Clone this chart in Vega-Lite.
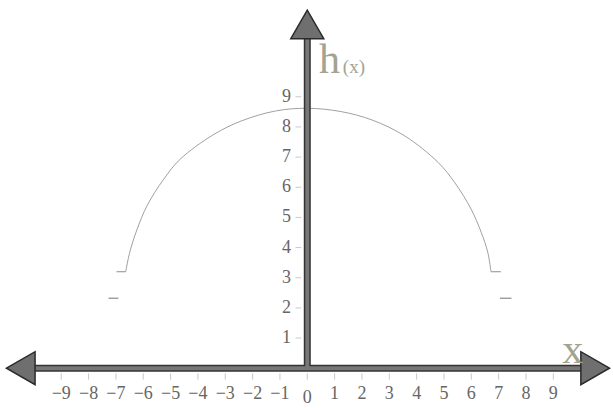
{
  "$schema": "https://vega.github.io/schema/vega-lite/v6.json",
  "width": 613,
  "height": 408,
  "autosize": {"type": "fit", "contains": "padding"},
  "padding": 0,
  "background": "white",
  "config": {"view": {"stroke": null}},
  "datasets": {
    "curve": [
      {"x": -6.64, "y": 3.2},
      {"x": -6.61, "y": 3.36},
      {"x": -6.46, "y": 3.96},
      {"x": -6.22, "y": 4.62},
      {"x": -5.86, "y": 5.39},
      {"x": -5.25, "y": 6.27},
      {"x": -4.65, "y": 6.93},
      {"x": -3.44, "y": 7.74},
      {"x": -2.41, "y": 8.2},
      {"x": -1.16, "y": 8.53},
      {"x": 0, "y": 8.62},
      {"x": 1.23, "y": 8.51},
      {"x": 2.37, "y": 8.23},
      {"x": 3.57, "y": 7.7},
      {"x": 4.79, "y": 6.82},
      {"x": 5.39, "y": 6.16},
      {"x": 5.99, "y": 5.28},
      {"x": 6.36, "y": 4.51},
      {"x": 6.6, "y": 3.85},
      {"x": 6.72, "y": 3.2}
    ],
    "segs": [
      {"x": -6.98, "x2": -6.64, "y": 3.2, "kind": "end"},
      {"x": 6.72, "x2": 7.08, "y": 3.2, "kind": "end"},
      {"x": -7.27, "x2": -6.91, "y": 2.32, "kind": "dash"},
      {"x": 7.05, "x2": 7.47, "y": 2.32, "kind": "dash"}
    ],
    "xt": [
      {"v": -9, "label": "−9"}, {"v": -8, "label": "−8"}, {"v": -7, "label": "−7"},
      {"v": -6, "label": "−6"}, {"v": -5, "label": "−5"}, {"v": -4, "label": "−4"},
      {"v": -3, "label": "−3"}, {"v": -2, "label": "−2"}, {"v": -1, "label": "−1"},
      {"v": 0, "label": "0"}, {"v": 1, "label": "1"}, {"v": 2, "label": "2"},
      {"v": 3, "label": "3"}, {"v": 4, "label": "4"}, {"v": 5, "label": "5"},
      {"v": 6, "label": "6"}, {"v": 7, "label": "7"}, {"v": 8, "label": "8"},
      {"v": 9, "label": "9"}
    ],
    "yt": [
      {"v": 1, "label": "1"}, {"v": 2, "label": "2"}, {"v": 3, "label": "3"},
      {"v": 4, "label": "4"}, {"v": 5, "label": "5"}, {"v": 6, "label": "6"},
      {"v": 7, "label": "7"}, {"v": 8, "label": "8"}, {"v": 9, "label": "9"}
    ],
    "arrows": [
      {"x": -10.48, "y": 0, "shape": "triangle-left"},
      {"x": 10.53, "y": 0, "shape": "triangle-right"},
      {"x": 0, "y": 11.4, "shape": "triangle-up"}
    ],
    "names": [
      {"x": 9.33, "y": 0.18, "text": "x", "size": "big"},
      {"x": 0.43, "y": 9.79, "text": "h", "size": "big"},
      {"x": 1.3, "y": 9.79, "text": "(x)", "size": "small"}
    ]
  },
  "layer": [
    {
      "data": {"name": "curve"},
      "mark": {"type": "line", "color": "#a0a0a0", "strokeWidth": 1, "interpolate": "catmull-rom"},
      "encoding": {
        "x": {"field": "x", "type": "quantitative", "scale": {"domain": [-11.24, 11.0], "nice": false, "zero": false}, "axis": null},
        "y": {"field": "y", "type": "quantitative", "scale": {"domain": [-1.254, 12.21], "nice": false, "zero": false}, "axis": null}
      }
    },
    {
      "data": {"name": "segs"},
      "mark": {"type": "rule", "strokeWidth": 1.2},
      "encoding": {
        "x": {"field": "x", "type": "quantitative", "scale": {"domain": [-11.24, 11.0], "nice": false, "zero": false}, "axis": null},
        "x2": {"field": "x2"},
        "y": {"field": "y", "type": "quantitative", "scale": {"domain": [-1.254, 12.21], "nice": false, "zero": false}, "axis": null},
        "color": {"field": "kind", "type": "nominal", "scale": {"domain": ["end", "dash"], "range": ["#a0a0a0", "#8a8a8a"]}, "legend": null}
      }
    },
    {
      "data": {"name": "xt"},
      "mark": {"type": "rule", "color": "#c8c8c8", "strokeWidth": 1},
      "encoding": {
        "x": {"field": "v", "type": "quantitative", "scale": {"domain": [-11.24, 11.0], "nice": false, "zero": false}, "axis": null},
        "y": {"datum": -0.17, "type": "quantitative", "scale": {"domain": [-1.254, 12.21], "nice": false, "zero": false}, "axis": null},
        "y2": {"datum": -0.38}
      }
    },
    {
      "data": {"name": "yt"},
      "mark": {"type": "rule", "color": "#c8c8c8", "strokeWidth": 1},
      "encoding": {
        "y": {"field": "v", "type": "quantitative", "scale": {"domain": [-1.254, 12.21], "nice": false, "zero": false}, "axis": null},
        "x": {"datum": -0.43, "type": "quantitative", "scale": {"domain": [-11.24, 11.0], "nice": false, "zero": false}, "axis": null},
        "x2": {"datum": -0.22}
      }
    },
    {
      "data": {"name": "xt"},
      "transform": [{"filter": "datum.v != 0"}],
      "mark": {"type": "text", "font": "Liberation Serif", "fontSize": 18, "color": "#666666", "align": "center", "baseline": "middle"},
      "encoding": {
        "x": {"field": "v", "type": "quantitative", "scale": {"domain": [-11.24, 11.0], "nice": false, "zero": false}, "axis": null},
        "y": {"datum": -0.86, "type": "quantitative", "scale": {"domain": [-1.254, 12.21], "nice": false, "zero": false}, "axis": null},
        "text": {"field": "label"}
      }
    },
    {
      "data": {"name": "xt"},
      "transform": [{"filter": "datum.v == 0"}],
      "mark": {"type": "text", "font": "Liberation Serif", "fontSize": 18, "color": "#666666", "align": "center", "baseline": "middle"},
      "encoding": {
        "x": {"field": "v", "type": "quantitative", "scale": {"domain": [-11.24, 11.0], "nice": false, "zero": false}, "axis": null},
        "y": {"datum": -1.0, "type": "quantitative", "scale": {"domain": [-1.254, 12.21], "nice": false, "zero": false}, "axis": null},
        "text": {"field": "label"}
      }
    },
    {
      "data": {"name": "yt"},
      "mark": {"type": "text", "font": "Liberation Serif", "fontSize": 18, "color": "#666666", "align": "right", "baseline": "middle"},
      "encoding": {
        "y": {"field": "v", "type": "quantitative", "scale": {"domain": [-1.254, 12.21], "nice": false, "zero": false}, "axis": null},
        "x": {"datum": -0.6, "type": "quantitative", "scale": {"domain": [-11.24, 11.0], "nice": false, "zero": false}, "axis": null},
        "text": {"field": "label"}
      }
    },
    {
      "data": {"values": [{"a": -10.5, "b": 10.5, "y": 0}]},
      "mark": {"type": "rule", "color": "#333333", "strokeWidth": 7},
      "encoding": {
        "x": {"field": "a", "type": "quantitative", "scale": {"domain": [-11.24, 11.0], "nice": false, "zero": false}, "axis": null},
        "x2": {"field": "b"},
        "y": {"field": "y", "type": "quantitative", "scale": {"domain": [-1.254, 12.21], "nice": false, "zero": false}, "axis": null}
      }
    },
    {
      "data": {"values": [{"a": 0, "b": 11.4, "x": 0}]},
      "mark": {"type": "rule", "color": "#333333", "strokeWidth": 7},
      "encoding": {
        "y": {"field": "a", "type": "quantitative", "scale": {"domain": [-1.254, 12.21], "nice": false, "zero": false}, "axis": null},
        "y2": {"field": "b"},
        "x": {"field": "x", "type": "quantitative", "scale": {"domain": [-11.24, 11.0], "nice": false, "zero": false}, "axis": null}
      }
    },
    {
      "data": {"values": [{"a": -10.5, "b": 10.5, "y": 0}]},
      "mark": {"type": "rule", "color": "#777777", "strokeWidth": 4},
      "encoding": {
        "x": {"field": "a", "type": "quantitative", "scale": {"domain": [-11.24, 11.0], "nice": false, "zero": false}, "axis": null},
        "x2": {"field": "b"},
        "y": {"field": "y", "type": "quantitative", "scale": {"domain": [-1.254, 12.21], "nice": false, "zero": false}, "axis": null}
      }
    },
    {
      "data": {"values": [{"a": -0.05, "b": 11.4, "x": 0}]},
      "mark": {"type": "rule", "color": "#777777", "strokeWidth": 4},
      "encoding": {
        "y": {"field": "a", "type": "quantitative", "scale": {"domain": [-1.254, 12.21], "nice": false, "zero": false}, "axis": null},
        "y2": {"field": "b"},
        "x": {"field": "x", "type": "quantitative", "scale": {"domain": [-11.24, 11.0], "nice": false, "zero": false}, "axis": null}
      }
    },
    {
      "data": {"name": "arrows"},
      "mark": {"type": "point", "filled": true, "fill": "#6f6f6f", "stroke": "#2a2a2a", "strokeWidth": 1.5, "opacity": 1, "size": 1089},
      "encoding": {
        "x": {"field": "x", "type": "quantitative", "scale": {"domain": [-11.24, 11.0], "nice": false, "zero": false}, "axis": null},
        "y": {"field": "y", "type": "quantitative", "scale": {"domain": [-1.254, 12.21], "nice": false, "zero": false}, "axis": null},
        "shape": {"field": "shape", "type": "nominal", "scale": null}
      }
    },
    {
      "data": {"name": "names"},
      "transform": [{"filter": "datum.size == 'big'"}],
      "mark": {"type": "text", "font": "Liberation Serif", "fontSize": 42, "color": "#a3a392", "baseline": "alphabetic", "align": "left"},
      "encoding": {
        "x": {"field": "x", "type": "quantitative", "scale": {"domain": [-11.24, 11.0], "nice": false, "zero": false}, "axis": null},
        "y": {"field": "y", "type": "quantitative", "scale": {"domain": [-1.254, 12.21], "nice": false, "zero": false}, "axis": null},
        "text": {"field": "text"}
      }
    },
    {
      "data": {"name": "names"},
      "transform": [{"filter": "datum.size == 'small'"}],
      "mark": {"type": "text", "font": "Liberation Serif", "fontSize": 19, "color": "#a3a392", "baseline": "alphabetic", "align": "left"},
      "encoding": {
        "x": {"field": "x", "type": "quantitative", "scale": {"domain": [-11.24, 11.0], "nice": false, "zero": false}, "axis": null},
        "y": {"field": "y", "type": "quantitative", "scale": {"domain": [-1.254, 12.21], "nice": false, "zero": false}, "axis": null},
        "text": {"field": "text"}
      }
    }
  ]
}
